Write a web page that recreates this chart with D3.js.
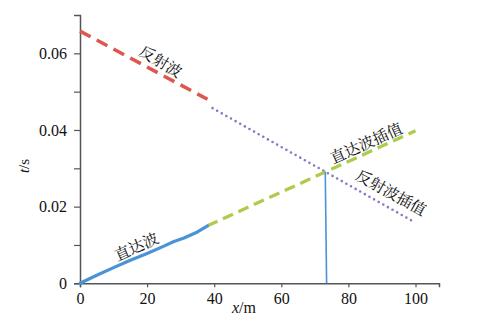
<!DOCTYPE html>
<html><head><meta charset="utf-8">
<script src="https://cdn.jsdelivr.net/npm/d3@7"></script>
<style>body{margin:0;background:#fff}svg{display:block}</style>
</head><body><svg id="c" width="477" height="323"></svg>
<script>
// data
const reflected = [[0,0.0658],[38,0.0480]];
const reflectedInterp = [[39.5,0.0457],[100,0.0158]];
const direct = [[0,0],[5,0.0021],[10,0.0041],[15,0.0060],[20,0.0078],[25,0.0097],[28,0.0109],[31,0.0118],[35,0.0134],[38,0.0150]];
const directInterp = [[38,0.0150],[100,0.0398]];
const crossLine = [[73.1,0.0291],[73.5,0]];
const xTicks = [0,20,40,60,80,100];
const yTicks = [0,0.01,0.02,0.03,0.04,0.05,0.06];
const yLabels = ["0","","0.02","","0.04","","0.06"];
const labels = [
  {text:"反射波", x:23.8, y:0.0575, rot:31},
  {text:"直达波", x:17, y:0.0092, rot:-24},
  {text:"直达波插值", x:85.5, y:0.0362, rot:-24},
  {text:"反射波插值", x:92.5, y:0.0233, rot:29}
];

const SERIF = '"Liberation Serif","Times New Roman",serif';
const CJK = '"Noto Serif CJK SC","Noto Sans CJK SC",serif';
const svg = d3.select("#c");
const x = d3.scaleLinear().domain([0,107]).range([80,439]);
const y = d3.scaleLinear().domain([0,0.07]).range([283.3,15]);
const line = d3.line().x(d=>x(d[0])).y(d=>y(d[1]));
const axisColor = "#555";

// axes
const xa = svg.append("g").attr("transform","translate(0,283.3)")
  .call(d3.axisBottom(x).tickValues(xTicks).tickSize(4).tickPadding(5).tickFormat(d3.format("d")));
const ya = svg.append("g").attr("transform","translate(80,0)")
  .call(d3.axisLeft(y).tickValues(yTicks).tickSize(6).tickPadding(7).tickFormat((d,i)=>yLabels[i]));
[xa,ya].forEach(g=>{
  g.attr("font-family",null).attr("font-size",null);
  g.selectAll("path").attr("stroke",axisColor).attr("stroke-width",1.5);
  g.selectAll("line").attr("stroke",axisColor).attr("stroke-width",1.2);
  g.selectAll("text").style("font-family",SERIF).style("font-size","16px").attr("fill","#111");
});

// lines
svg.append("path").attr("d",line(reflected)).attr("fill","none")
  .attr("stroke","#e0554d").attr("stroke-width",3.5).attr("stroke-dasharray","12,7");
svg.append("path").attr("d",line(reflectedInterp)).attr("fill","none")
  .attr("stroke","#8b76c6").attr("stroke-width",2.6).attr("stroke-linecap","round").attr("stroke-dasharray","0,5.3");
svg.append("path").attr("d",line(directInterp)).attr("fill","none")
  .attr("stroke","#aecb4c").attr("stroke-width",3.3).attr("stroke-dasharray","11,6");
svg.append("path").attr("d",line(direct)).attr("fill","none")
  .attr("stroke","#4a93d6").attr("stroke-width",3.2).attr("stroke-linecap","round").attr("stroke-linejoin","round");
svg.append("path").attr("d",line(crossLine)).attr("fill","none")
  .attr("stroke","#4a93d6").attr("stroke-width",1.6);

// labels
labels.forEach(l=>{
  svg.append("text").attr("transform",`translate(${x(l.x)},${y(l.y)}) rotate(${l.rot})`)
    .attr("text-anchor","middle").attr("dominant-baseline","middle")
    .style("font-family",CJK).style("font-size","15.5px").attr("fill","#111")
    .text(l.text);
});

// axis titles
const xt = svg.append("text").attr("x",244).attr("y",313).attr("text-anchor","middle")
  .style("font-family",SERIF).style("font-size","16px").attr("fill","#111");
xt.append("tspan").style("font-style","italic").text("x");
xt.append("tspan").text("/m");
const yt = svg.append("text").attr("transform","translate(29,166) rotate(-90)").attr("text-anchor","middle")
  .style("font-family",SERIF).style("font-size","15px").attr("fill","#111");
yt.append("tspan").style("font-style","italic").text("t");
yt.append("tspan").text("/s");
</script></body></html>
